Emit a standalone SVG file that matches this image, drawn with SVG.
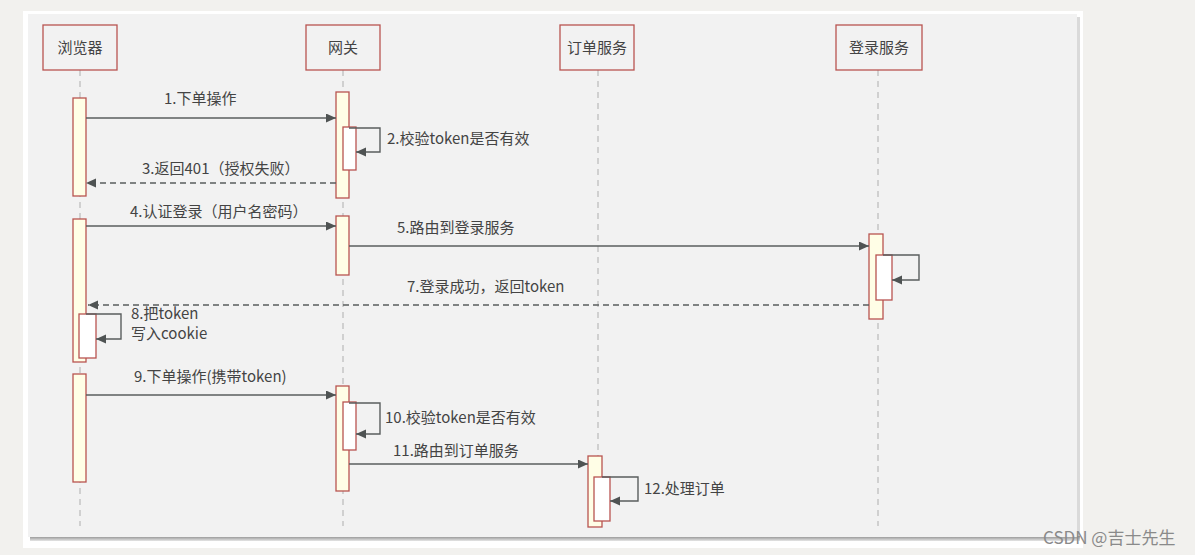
<svg xmlns="http://www.w3.org/2000/svg" width="1195" height="555" viewBox="0 0 1195 555">
<style>
.hdr{fill:#f2f2f2;stroke:#b85450;stroke-width:1.3}
.act{fill:#fffee6;stroke:#b85450;stroke-width:1.3}
.inn{fill:#ffffff;stroke:#b85450;stroke-width:1.3}
.life{stroke:#bdbdbd;stroke-width:1.3;stroke-dasharray:6 5;fill:none}
.msg{stroke:#5a5e5e;stroke-width:1.4;fill:none;marker-end:url(#ah)}
.ret{stroke:#5a5e5e;stroke-width:1.4;fill:none;stroke-dasharray:6 4;marker-end:url(#ah)}
text{font-family:"Microsoft YaHei","Noto Sans CJK SC","Noto Sans",sans-serif;font-size:15px;fill:#444}
.c{text-anchor:middle}
</style>
<defs>
<marker id="ah" markerUnits="userSpaceOnUse" markerWidth="11" markerHeight="10" refX="10" refY="4.5" orient="auto">
<path d="M0,0 L10,4.5 L0,9 z" fill="#4f5353"/>
</marker>
<linearGradient id="bsh" x1="0" y1="0" x2="0" y2="1">
<stop offset="0" stop-color="#8a8a8a"/>
<stop offset="1" stop-color="#e6e6e6"/>
</linearGradient>
</defs>
<rect x="0" y="0" width="1195" height="555" fill="#f2f1ee"/>
<rect x="23" y="11" width="1060" height="537" fill="#ffffff"/>
<rect x="30" y="17" width="1050" height="520" fill="#dadada"/>
<rect x="30" y="536" width="1050" height="5" fill="url(#bsh)"/>
<rect x="28" y="14" width="1049" height="523" fill="#f2f2f2"/>
<g id="lifelines">
<line class="life" x1="80" y1="70" x2="80" y2="526"/>
<line class="life" x1="343" y1="70" x2="343" y2="526"/>
<line class="life" x1="598" y1="70" x2="598" y2="526"/>
<line class="life" x1="878" y1="70" x2="878" y2="526"/>
</g>
<g id="browser">
<rect class="hdr" x="43" y="25" width="74" height="45"/>
<text class="c" x="80" y="53">浏览器</text>
<rect class="act" x="73" y="98" width="13" height="98"/>
<rect class="act" x="73" y="219" width="13" height="143"/>
<rect class="inn" x="79" y="314" width="17" height="44"/>
<rect class="act" x="73" y="374" width="13" height="108"/>
</g>
<g id="gateway">
<rect class="hdr" x="306" y="25" width="74" height="45"/>
<text class="c" x="343" y="53">网关</text>
<rect class="act" x="336" y="92" width="13" height="106"/>
<rect class="inn" x="343" y="127" width="13" height="43"/>
<rect class="act" x="336" y="216" width="13" height="59"/>
<rect class="act" x="336" y="386" width="13" height="105"/>
<rect class="inn" x="343" y="402" width="13" height="48"/>
</g>
<g id="order">
<rect class="hdr" x="560" y="25" width="74" height="45"/>
<text class="c" x="597" y="53">订单服务</text>
<rect class="act" x="588" y="456" width="14" height="71"/>
<rect class="inn" x="594" y="477" width="16" height="44"/>
</g>
<g id="login">
<rect class="hdr" x="836" y="25" width="86" height="45"/>
<text class="c" x="879" y="53">登录服务</text>
<rect class="act" x="869" y="234" width="14" height="85"/>
<rect class="inn" x="876" y="255" width="16" height="45"/>
</g>
<g id="connectors">
<path class="msg" d="M86,118 H336"/>
<path class="msg" d="M349,128 H380 V152 H356"/>
<path class="ret" d="M336,183 H86"/>
<path class="msg" d="M86,226 H336"/>
<path class="msg" d="M349,246 H869"/>
<path class="msg" d="M883,255 H919 V280 H892"/>
<path class="ret" d="M869,305 H88"/>
<path class="msg" d="M86,314 H121 V339 H96"/>
<path class="msg" d="M86,395 H336"/>
<path class="msg" d="M349,403 H380 V434 H356"/>
<path class="msg" d="M349,464 H588"/>
<path class="msg" d="M602,477 H638 V501 H610"/>
</g>
<g id="labels">
<text x="164" y="104">1.下单操作</text>
<text x="387" y="144">2.校验token是否有效</text>
<text x="142" y="174">3.返回401（授权失败）</text>
<text x="130" y="217">4.认证登录（用户名密码）</text>
<text x="397" y="233">5.路由到登录服务</text>
<text x="407" y="292">7.登录成功，返回token</text>
<text x="131" y="319">8.把token</text>
<text x="131" y="339">写入cookie</text>
<text x="134" y="382">9.下单操作(携带token)</text>
<text x="385" y="423">10.校验token是否有效</text>
<text x="393" y="456">11.路由到订单服务</text>
<text x="644" y="494">12.处理订单</text>
</g>
<text x="1043" y="544" style="fill:#8a8a8a;font-size:17px">CSDN @吉士先生</text>
</svg>
